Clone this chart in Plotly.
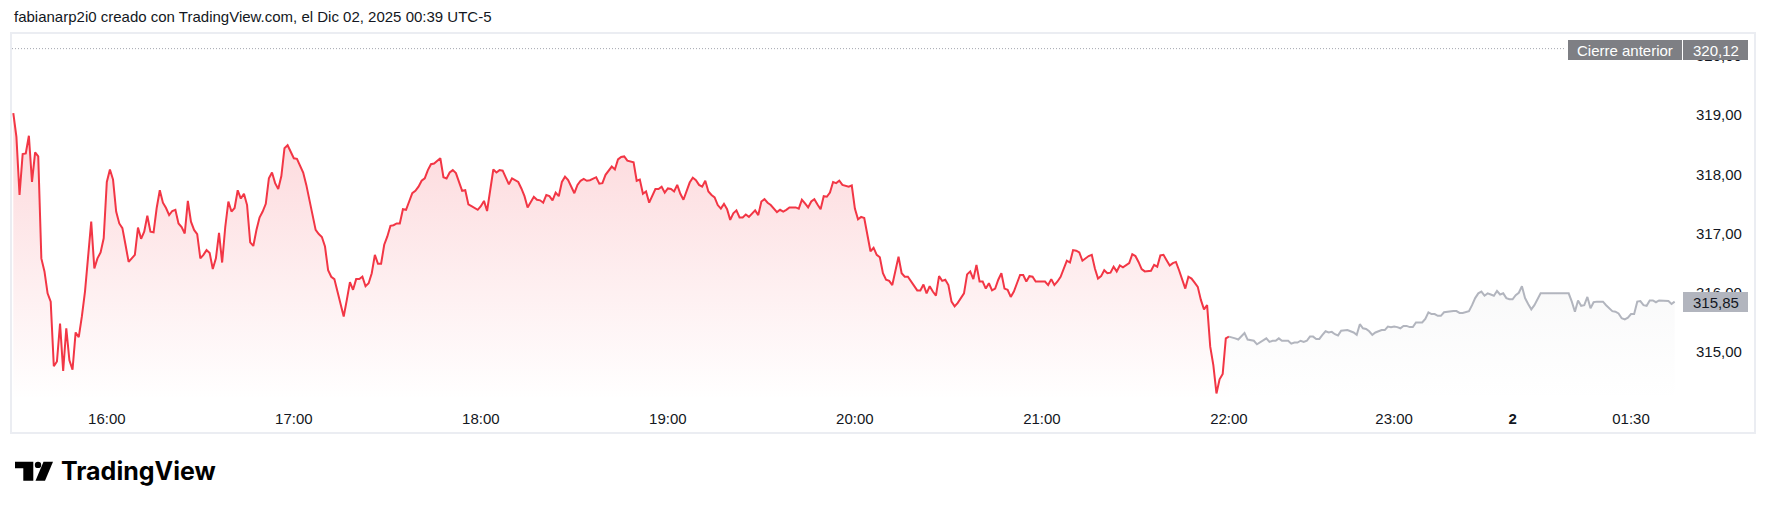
import plotly.graph_objects as go

# ----------------------------
# Datos (barras de 1 minuto, índice de barra en el eje de tiempo)
# ----------------------------
precio_sesion = [
    319.03, 318.63, 317.65, 318.34, 318.35, 318.65, 317.87, 318.37, 318.30, 316.58,
    316.36, 315.99, 315.85, 314.76, 314.84, 315.48, 314.68, 315.40, 314.86, 314.70,
    315.33, 315.25, 315.60, 316.02, 316.61, 317.20, 316.41, 316.58, 316.68, 316.92,
    317.87, 318.08, 317.91, 317.37, 317.17, 317.09, 316.81, 316.52, 316.58, 316.64,
    317.10, 316.91, 317.03, 317.30, 317.03, 317.02, 317.43, 317.73, 317.52, 317.43,
    317.31, 317.38, 317.40, 317.17, 317.11, 317.00, 317.55, 317.20, 317.06, 316.99,
    316.58, 316.64, 316.72, 316.67, 316.40, 316.58, 317.01, 316.51, 317.11, 317.54,
    317.37, 317.43, 317.73, 317.59, 317.67, 317.48, 316.85, 316.79, 317.06, 317.27,
    317.37, 317.50, 317.93, 318.03, 317.85, 317.75, 317.97, 318.44, 318.49, 318.38,
    318.27, 318.26, 318.13, 318.03, 317.82, 317.57, 317.34, 317.06, 316.99, 316.94,
    316.78, 316.38, 316.27, 316.23, 316.02, 315.82, 315.60, 315.88, 316.18, 316.05,
    316.23, 316.23, 316.27, 316.11, 316.16, 316.33, 316.64, 316.49, 316.49, 316.81,
    316.95, 317.13, 317.14, 317.17, 317.17,
    317.41, 317.40, 317.54, 317.68, 317.72, 317.79, 317.89, 317.93, 318.07, 318.17,
    318.18, 318.23, 318.27, 317.95, 317.93, 318.03, 318.07, 318.02, 317.87, 317.72,
    317.73, 317.49, 317.46, 317.43, 317.40, 317.46, 317.55, 317.38, 317.73, 318.08,
    318.03, 318.07, 318.06, 317.95, 317.83, 317.93, 317.90, 317.87, 317.76, 317.63,
    317.44, 317.54, 317.62, 317.57, 317.56, 317.52, 317.65, 317.63, 317.56, 317.69,
    317.63, 317.87, 317.96, 317.90, 317.79, 317.68, 317.82, 317.89, 317.92, 317.89,
    317.90, 317.93, 317.95, 317.84, 317.85, 317.99, 318.07, 318.13, 318.08, 318.25,
    318.29, 318.30, 318.23, 318.21, 318.20, 317.89, 317.91, 317.67, 317.71, 317.52,
    317.65, 317.75, 317.75, 317.79, 317.69,
    317.76, 317.75, 317.71, 317.82, 317.67, 317.57, 317.71, 317.86, 317.94, 317.90,
    317.82, 317.79, 317.89, 317.71, 317.65, 317.61, 317.48, 317.42, 317.50, 317.41,
    317.23, 317.34, 317.39, 317.27, 317.27, 317.32, 317.28, 317.34, 317.39, 317.31,
    317.54, 317.58, 317.52, 317.48, 317.41, 317.36, 317.40, 317.37, 317.40, 317.44,
    317.44, 317.44, 317.42, 317.57, 317.51, 317.44, 317.54, 317.58, 317.49, 317.41,
    317.63, 317.62, 317.69, 317.87, 317.85, 317.89, 317.82, 317.80, 317.79, 317.81,
    317.42, 317.24, 317.28, 317.26, 316.97, 316.70, 316.76, 316.64, 316.60, 316.33,
    316.22, 316.20, 316.13, 316.38, 316.61, 316.33, 316.27, 316.27, 316.19, 316.13,
    316.04, 316.04, 316.14,
    315.99, 316.11, 316.02, 315.95, 316.28, 316.20, 316.22, 316.13, 315.85, 315.77,
    315.83, 315.91, 315.99, 316.31, 316.36, 316.23, 316.47, 316.19, 316.19, 316.07,
    316.16, 316.04, 316.07, 316.22, 316.33, 316.07, 316.05, 315.93, 316.02, 316.16,
    316.30, 316.30, 316.19, 316.28, 316.27, 316.19, 316.19, 316.20, 316.19, 316.13,
    316.23, 316.13, 316.19, 316.27, 316.41, 316.54, 316.51, 316.72, 316.71, 316.68,
    316.54, 316.58, 316.62, 316.64, 316.41, 316.24, 316.28, 316.38, 316.33, 316.34,
    316.44, 316.36, 316.46, 316.43, 316.47, 316.50, 316.65, 316.62, 316.52, 316.40,
    316.36, 316.37, 316.37, 316.47, 316.44, 316.63, 316.64, 316.55, 316.46, 316.50,
    316.52, 316.38, 316.22, 316.07,
    316.27, 316.24, 316.17, 316.10, 315.88, 315.72, 315.79, 315.09, 314.78, 314.30,
    314.54, 314.63, 315.23, 315.26,
]

precio_extendido = [
    315.26, 315.25, 315.23, 315.21, 315.27, 315.32, 315.21, 315.20, 315.19, 315.13,
    315.16, 315.20, 315.23, 315.17, 315.19, 315.19, 315.23, 315.19, 315.19, 315.19,
    315.14, 315.16, 315.16, 315.19, 315.17, 315.19, 315.26, 315.26, 315.22, 315.22,
    315.29, 315.35, 315.33, 315.34, 315.30, 315.28, 315.36, 315.37, 315.37, 315.35,
    315.33, 315.29, 315.47, 315.40, 315.39, 315.35, 315.29, 315.33, 315.35, 315.37,
    315.37, 315.43, 315.42, 315.43, 315.42, 315.40, 315.44, 315.44, 315.42, 315.42,
    315.50, 315.50, 315.50, 315.56, 315.67, 315.64, 315.64, 315.61, 315.61, 315.67,
    315.68, 315.69, 315.69, 315.69, 315.66, 315.66, 315.68, 315.69, 315.79, 315.91,
    315.99, 316.02, 315.95, 315.99, 315.97, 315.95, 316.03, 315.97, 315.99, 315.91,
    315.89, 315.89, 315.96, 316.00, 316.11, 315.91, 315.81, 315.72, 315.79, 315.88,
    315.99, 315.99, 315.99, 315.99, 315.98, 315.98, 315.99, 315.99, 315.99, 315.99,
    315.85, 315.68, 315.87, 315.78, 315.79, 315.93, 315.74, 315.84, 315.85, 315.85,
    315.85, 315.79, 315.74, 315.69, 315.68, 315.65, 315.57, 315.55, 315.58, 315.64,
    315.64, 315.85, 315.86, 315.79, 315.78, 315.87, 315.87, 315.84, 315.87, 315.87,
    315.87, 315.86, 315.81, 315.85,
]

# barra donde empieza la sesión extendida (22:00)
inicio_extendido = len(precio_sesion) - 1

etiquetas_barra = [30, 90, 150, 210, 270, 330, 390, 443, 481, 519]
etiquetas_texto = ["16:00", "17:00", "18:00", "19:00", "20:00", "21:00",
                   "22:00", "23:00", "<b>2</b>", "01:30"]
valores_eje_y = [315, 316, 317, 318, 319, 320]

cierre_anterior = 320.12
ultimo_precio = precio_extendido[-1]

# ----------------------------
# Geometría del lienzo
# ----------------------------
W, H = 1768, 509
ML, MR, MT, MB = 12, 85, 35, 109
PW = W - ML - MR
PH = H - MT - MB


def px(x):
    return (x - ML) / PW


def py(y):
    return (H - MB - y) / PH


FONT = "Liberation Sans"
TEXT = "#131722"
RED = "#F23645"
GREY_LINE = "#B2B5BE"
GREY_BOX = "#7E7F84"

barras_sesion = list(range(len(precio_sesion)))
barras_ext = list(range(inicio_extendido, inicio_extendido + len(precio_extendido)))

fig = go.Figure()

fig.add_trace(go.Scatter(
    x=barras_sesion, y=precio_sesion,
    mode="lines", line=dict(color=RED, width=2),
    fill="tozeroy",
    fillgradient=dict(
        type="vertical",
        colorscale=[[0, "rgba(242,54,69,0)"], [1, "rgba(242,54,69,0.2)"]],
        start=314.19, stop=max(precio_sesion),
    ),
    hoverinfo="skip",
))

fig.add_trace(go.Scatter(
    x=barras_ext, y=precio_extendido,
    mode="lines", line=dict(color=GREY_LINE, width=2),
    fill="tozeroy",
    fillgradient=dict(
        type="vertical",
        colorscale=[[0, "rgba(120,123,134,0)"], [1, "rgba(120,123,134,0.045)"]],
        start=314.19, stop=max(precio_extendido),
    ),
    hoverinfo="skip",
))

shapes = [
    # marco
    dict(type="rect", xref="paper", yref="paper",
         x0=px(11), x1=px(1755), y0=py(33), y1=py(433),
         line=dict(color="#EBEDF2", width=2), layer="below"),
    # cierre anterior
    dict(type="line", xref="paper", yref="y",
         x0=0, x1=px(1566), y0=cierre_anterior, y1=cierre_anterior,
         line=dict(color="#A3A6AF", width=1, dash="1px,2px")),
    dict(type="rect", xref="paper", yref="paper",
         x0=px(1568), x1=px(1682), y0=py(40), y1=py(60),
         fillcolor=GREY_BOX, line=dict(width=0), layer="above"),
    dict(type="rect", xref="paper", yref="paper",
         x0=px(1683), x1=px(1748), y0=py(40), y1=py(60),
         fillcolor=GREY_BOX, line=dict(width=0), layer="above"),
    # último precio
    dict(type="rect", xref="paper", yref="paper",
         x0=px(1683), x1=px(1748), y0=py(292), y1=py(312),
         fillcolor=GREY_LINE, line=dict(width=0), layer="above"),
]


# logotipo TradingView
def ruta(puntos):
    return "M " + " L ".join(f"{px(a)},{py(b)}" for a, b in puntos) + " Z"


shapes += [
    dict(type="path", xref="paper", yref="paper",
         path=ruta([(15, 461.7), (33.3, 461.7), (33.3, 480.7), (23.3, 480.7),
                    (23.3, 468.3), (15, 468.3)]),
         fillcolor="#000000", line=dict(width=0)),
    dict(type="circle", xref="paper", yref="paper",
         x0=px(34.8), x1=px(41.2), y0=py(461.7), y1=py(468.1),
         fillcolor="#000000", line=dict(width=0)),
    dict(type="path", xref="paper", yref="paper",
         path=ruta([(43.5, 461.7), (53, 461.7), (45, 480.7), (35.5, 480.7)]),
         fillcolor="#000000", line=dict(width=0)),
]

annotations = [
    dict(xref="paper", yref="paper", x=px(12), y=py(17),
         xanchor="left", yanchor="middle", showarrow=False,
         text="fabianarp2i0 creado con TradingView.com, el Dic 02, 2025 00:39 UTC-5",
         font=dict(family=FONT, size=15, color=TEXT)),
    dict(xref="paper", yref="paper", x=px(1625), y=py(50),
         xanchor="center", yanchor="middle", showarrow=False,
         text="Cierre anterior", font=dict(family=FONT, size=15, color="#FFFFFF")),
    dict(xref="paper", yref="paper", x=px(1716), y=py(50),
         xanchor="center", yanchor="middle", showarrow=False,
         text=f"{cierre_anterior:.2f}".replace(".", ","),
         font=dict(family=FONT, size=15, color="#FFFFFF")),
    dict(xref="paper", yref="paper", x=px(1716), y=py(302),
         xanchor="center", yanchor="middle", showarrow=False,
         text=f"{ultimo_precio:.2f}".replace(".", ","),
         font=dict(family=FONT, size=15, color=TEXT)),
    dict(xref="paper", yref="paper", x=px(59), y=py(471),
         xanchor="left", yanchor="middle", showarrow=False,
         text="<b>TradingView</b>",
         font=dict(family="Inter", size=25, color="#000000")),
]

fig.update_layout(
    width=W, height=H,
    margin=dict(l=ML, r=MR, t=MT, b=MB),
    paper_bgcolor="#FFFFFF", plot_bgcolor="#FFFFFF",
    showlegend=False,
    separators=",.",
    font=dict(family=FONT, size=15, color=TEXT),
    xaxis=dict(
        range=[(ML - 13.3) / 3.117, (W - MR - 13.3) / 3.117],
        tickmode="array", tickvals=etiquetas_barra, ticktext=etiquetas_texto,
        showgrid=False, zeroline=False, showline=False,
        ticks="outside", ticklen=5, tickcolor="rgba(0,0,0,0)",
        tickfont=dict(family=FONT, size=15, color=TEXT),
    ),
    yaxis=dict(
        range=[314.19, 320.35], side="right",
        tickmode="array", tickvals=valores_eje_y, tickformat=".2f",
        showgrid=False, zeroline=False, showline=False,
        ticks="outside", ticklen=9, tickcolor="rgba(0,0,0,0)",
        tickfont=dict(family=FONT, size=15, color=TEXT),
    ),
    shapes=shapes,
    annotations=annotations,
)

# la página no debe añadir margen alrededor del gráfico
fig.write_html("out.html", config={"displayModeBar": False},
               post_script="document.body.style.margin='0px';")
